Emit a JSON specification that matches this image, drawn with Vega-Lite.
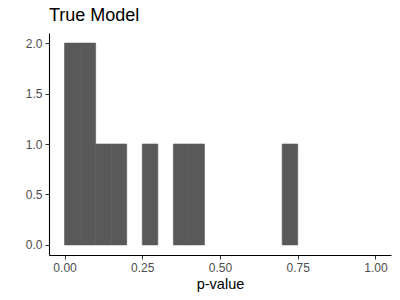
{
  "$schema": "https://vega.github.io/schema/vega-lite/v6.json",
  "width": 342,
  "height": 222,
  "autosize": {"type": "none"},
  "padding": {"left": 49, "top": 33, "right": 9, "bottom": 45},
  "background": "white",
  "title": {"text": "True Model", "anchor": "start", "frame": "group", "font": "Liberation Sans", "fontSize": 18, "fontWeight": "normal", "color": "black", "offset": 8},
  "data": {"values": [
    {"bin_start": 0.0, "bin_end": 0.05, "count": 2, "base": 0},
    {"bin_start": 0.05, "bin_end": 0.1, "count": 2, "base": 0},
    {"bin_start": 0.1, "bin_end": 0.15, "count": 1, "base": 0},
    {"bin_start": 0.15, "bin_end": 0.2, "count": 1, "base": 0},
    {"bin_start": 0.25, "bin_end": 0.3, "count": 1, "base": 0},
    {"bin_start": 0.35, "bin_end": 0.4, "count": 1, "base": 0},
    {"bin_start": 0.4, "bin_end": 0.45, "count": 1, "base": 0},
    {"bin_start": 0.7, "bin_end": 0.75, "count": 1, "base": 0}
  ]},
  "mark": {"type": "rect", "color": "#595959", "stroke": "#595959", "strokeWidth": 0.6},
  "encoding": {
    "x": {"field": "bin_start", "type": "quantitative", "scale": {"domain": [-0.05, 1.05], "nice": false, "zero": false},
      "axis": {"title": "p-value", "values": [0, 0.25, 0.5, 0.75, 1], "format": ".2f", "grid": false, "domainColor": "black", "domainWidth": 1.1, "tickColor": "#333333", "tickSize": 4, "labelColor": "#4D4D4D", "labelFont": "Liberation Sans", "labelFontSize": 12, "labelPadding": 3, "titleFont": "Liberation Sans", "titleFontSize": 14.5, "titleFontWeight": "normal", "titleColor": "black", "titlePadding": 4}},
    "x2": {"field": "bin_end"},
    "y": {"field": "count", "type": "quantitative", "scale": {"domain": [-0.1, 2.1], "nice": false, "zero": false},
      "axis": {"title": null, "values": [0, 0.5, 1, 1.5, 2], "format": ".1f", "grid": false, "domainColor": "black", "domainWidth": 1.1, "tickColor": "#333333", "tickSize": 4, "labelColor": "#4D4D4D", "labelFont": "Liberation Sans", "labelFontSize": 12, "labelPadding": 3}},
    "y2": {"field": "base"}
  },
  "config": {"view": {"stroke": null}}
}
